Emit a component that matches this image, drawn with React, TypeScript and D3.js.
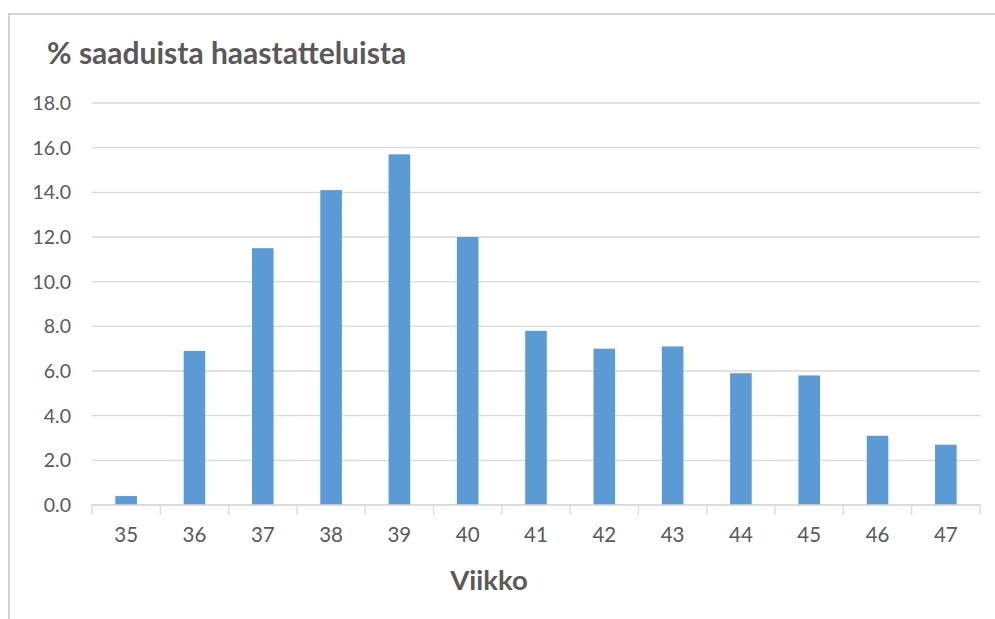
import React from "react";
import * as d3 from "d3";

const weeks = ["35", "36", "37", "38", "39", "40", "41", "42", "43", "44", "45", "46", "47"];
const values = [0.4, 6.9, 11.5, 14.1, 15.7, 12.0, 7.8, 7.0, 7.1, 5.9, 5.8, 3.1, 2.7];
const yTicks = [0, 2, 4, 6, 8, 10, 12, 14, 16, 18];
const title = "% saaduista haastatteluista";
const xTitle = "Viikko";

const W = 995;
const H = 619;
const left = 92;
const right = 980;
const top = 103;
const bottom = 505;

export default function App() {
  const x = d3.scaleBand<string>().domain(weeks).range([left, right]).paddingInner(0.684).paddingOuter(0.342);
  const y = d3.scaleLinear().domain([0, 18]).range([bottom, top]);
  const step = x.step();
  const textColor = "#595959";
  const font = "Lato, 'Open Sans', sans-serif";
  return (
    <svg width={W} height={H} style={{ position: "absolute", left: 0, top: 0, background: "#fff" }} fontFamily={font}>
      <rect x={9} y={14} width={W + 20} height={H + 20} fill="#fff" stroke="#d4d4d4" strokeWidth={2} />
      <text x={47} y={64} fontSize={30} fontWeight={700} fill={textColor}>{title}</text>
      {yTicks.map((t) => (
        <g key={t}>
          <line x1={left} x2={right} y1={y(t)} y2={y(t)} stroke="#d9d9d9" strokeWidth={1.3} />
          <text x={71} y={y(t)} dy="0.36em" textAnchor="end" fontSize={19.5} fill={textColor}>{t.toFixed(1)}</text>
        </g>
      ))}
      {weeks.map((w, i) => (
        <rect key={w} x={x(w)} y={y(values[i])} width={x.bandwidth()} height={bottom - y(values[i])} fill="#5b9bd5" />
      ))}
      <line x1={left} x2={right} y1={bottom} y2={bottom} stroke="#d9d9d9" strokeWidth={1.5} />
      {d3.range(weeks.length + 1).map((i) => (
        <line key={i} x1={left + i * step} x2={left + i * step} y1={bottom} y2={bottom + 10} stroke="#d9d9d9" strokeWidth={1.3} />
      ))}
      {weeks.map((w) => (
        <text key={w} x={(x(w) as number) + x.bandwidth() / 2} y={542} textAnchor="middle" fontSize={20.5} fill={textColor}>{w}</text>
      ))}
      <text x={489} y={590} textAnchor="middle" fontSize={27.5} fontWeight={700} fill={textColor}>{xTitle}</text>
    </svg>
  );
}
